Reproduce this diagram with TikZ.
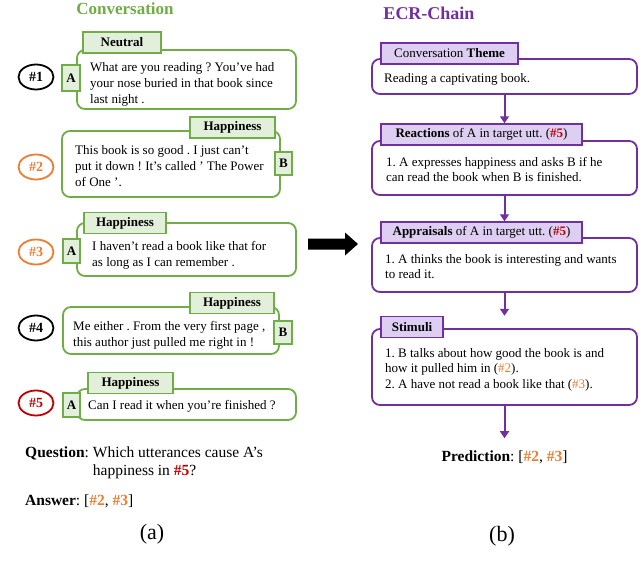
\documentclass[tikz,border=0pt]{standalone}
\usepackage{fontspec}
\setmainfont{Liberation Serif}
\usetikzlibrary{arrows.meta,shapes.geometric}
\definecolor{gborder}{RGB}{112,173,71}
\definecolor{gfill}{RGB}{226,239,218}
\definecolor{pborder}{RGB}{112,48,160}
\definecolor{pfill}{RGB}{222,206,242}
\definecolor{orng}{RGB}{237,125,49}
\definecolor{redc}{RGB}{192,0,0}
\newcommand{\fsz}[2]{\fontsize{#1}{#2}\selectfont}
\newcommand{\hor}[1]{\textcolor{orng}{\textbf{#1}}}
\newcommand{\hrd}[1]{\textcolor{redc}{\textbf{#1}}}
\frenchspacing
\begin{document}
\begin{tikzpicture}[x=1pt,y=-1pt,
  bubble/.style={draw=gborder, line width=1.8pt, fill=white, rounded corners=8pt, inner sep=0},
  gtag/.style={draw=gborder, line width=1.5pt, fill=gfill, inner sep=0, font=\fsz{13}{16}\bfseries},
  spk/.style={draw=gborder, line width=1.5pt, fill=gfill, inner sep=0, font=\fsz{13}{16}\bfseries},
  utext/.style={anchor=north west, inner sep=0, align=left, font=\fsz{13}{16}},
  uid/.style={ellipse, draw, line width=1.8pt, minimum width=35, minimum height=25, inner sep=0, font=\fsz{14}{16}\bfseries},
  pbox/.style={draw=pborder, line width=1.8pt, fill=white, rounded corners=8pt, inner sep=0, minimum width=265},
  ptag/.style={draw=pborder, line width=1.5pt, fill=pfill, inner sep=0, minimum height=21, font=\fsz{13}{16}},
  ptext/.style={anchor=north west, inner sep=0, align=left, font=\fsz{13}{15.5}},
  flow/.style={draw=pborder, line width=2pt, -{Triangle[width=9pt,length=7pt]}}
]
\useasboundingbox[fill=white] (0,0) rectangle (640,578);

% ---------- Left: Conversation ----------
\node[font=\fsz{17}{20}\bfseries, text=gborder] (convtitle) at (125,9) {Conversation};

% utterance 1
\node[uid, draw=black] (id1) at (36,77) {\#1};
\node[bubble, minimum width=219, minimum height=59] (u1) at (186.5,79.5) {};
\node[gtag, minimum width=78, minimum height=21] (g1) at (122,42.5) {Neutral};
\node[spk, minimum width=18, minimum height=26] (s1) at (71,78) {A};
\node[utext] (t1) at (90,60) {\strut What are you reading ? You've had\\your nose buried in that book since\\last night .};

% utterance 2
\node[uid, draw=orng, text=orng] (id2) at (36,167) {\#2};
\node[bubble, minimum width=218, minimum height=66] (u2) at (171,164) {};
\node[gtag, minimum width=85, minimum height=21] (g2) at (232.5,127.5) {Happiness};
\node[spk, minimum width=17, minimum height=23] (s2) at (283.5,163.5) {B};
\node[utext] (t2) at (75,143) {\strut This book is so good . I just can't\\put it down ! It's called ' The Power\\of One '.};

% utterance 3
\node[uid, draw=orng, text=orng] (id3) at (36,252) {\#3};
\node[bubble, minimum width=219, minimum height=53] (u3) at (186.5,249.5) {};
\node[gtag, minimum width=82, minimum height=21] (g3) at (125,223) {Happiness};
\node[spk, minimum width=17, minimum height=24] (s3) at (71.5,251) {A};
\node[utext] (t3) at (92,239) {\strut I haven't read a book like that for\\as long as I can remember .};

% utterance 4
\node[uid, draw=black] (id4) at (36,328) {\#4};
\node[bubble, minimum width=216, minimum height=47] (u4) at (171,330.5) {};
\node[gtag, minimum width=84, minimum height=21] (g4) at (232,303) {Happiness};
\node[spk, minimum width=18, minimum height=23] (s4) at (283,332.5) {B};
\node[utext] (t4) at (73,319) {\strut Me either . From the very first page ,\\this author just pulled me right in !};

% utterance 5
\node[uid, draw=redc, text=redc] (id5) at (36,403) {\#5};
\node[bubble, minimum width=219, minimum height=31] (u5) at (186.5,404.5) {};
\node[gtag, minimum width=85, minimum height=21] (g5) at (130.5,383) {Happiness};
\node[spk, minimum width=17, minimum height=24] (s5) at (71.5,405) {A};
\node[utext] (t5) at (88,398) {\strut Can I read it when you're finished ?};

% question / answer
\node[anchor=north west, inner sep=0, font=\fsz{15.5}{18}] (quest) at (25,445)
  {\begin{tabular}{@{}l@{\hspace{4pt}}l@{}}\textbf{Question}: & Which utterances cause A's\\ & happiness in \hrd{\#5}?\end{tabular}};
\node[anchor=base west, inner sep=0, font=\fsz{15.5}{18}] (answer) at (25,505)
  {\textbf{Answer}: [\hor{\#2}, \hor{\#3}]};
\node[font=\fsz{22}{24}] (capa) at (152,534) {(a)};

% big arrow
\fill[black] (308,238.5) -- (345,238.5) -- (345,232.5) -- (358,244) -- (345,255.5) -- (345,249.5) -- (308,249.5) -- cycle;

% ---------- Right: ECR-Chain ----------
\node[font=\fsz{18}{20}\bfseries, text=pborder] (ecrtitle) at (429,13.5) {ECR-Chain};

\node[pbox, minimum height=35] (r1) at (504.5,76.5) {};
\node[ptag, minimum width=137] (h1) at (449.5,53.5) {Conversation \textbf{Theme}};
\node[ptext] (p1) at (384,71) {\strut Reading a captivating book.};

\node[pbox, minimum height=54] (r2) at (504.5,168) {};
\node[ptag, minimum width=201] (h2) at (481.5,134.5) {\textbf{Reactions} of A in target utt. (\hrd{\#5})};
\node[ptext] (p2) at (386,155) {\strut 1. A expresses happiness and asks B if he\\can read the book when B is finished.};

\node[pbox, minimum height=54] (r3) at (504.5,265) {};
\node[ptag, minimum width=201] (h3) at (481.5,232.5) {\textbf{Appraisals} of A in target utt. (\hrd{\#5})};
\node[ptext] (p3) at (385,252) {\strut 1. A thinks the book is interesting and wants\\to read it.};

\node[pbox, minimum height=76] (r4) at (504.5,367) {};
\node[ptag, minimum width=62] (h4) at (412,327) {\textbf{Stimuli}};
\node[ptext] (p4) at (385,346) {\strut 1. B talks about how good the book is and\\how it pulled him in (\textcolor{orng}{\#2}).\\2. A have not read a book like that (\textcolor{orng}{\#3}).};

\node[font=\fsz{15.5}{18}, inner xsep=0, inner ysep=12pt] (pred) at (504.5,457) {\textbf{Prediction}: [\hor{\#2}, \hor{\#3}]};
\node[font=\fsz{22}{24}] (capb) at (502,536) {(b)};

% connectors
\draw[flow] (r1.south) -- (r1.south |- h2.north);
\draw[flow] (r2.south) -- (r2.south |- h3.north);
\draw[flow] (r3.south) -- (r3.south |- h4.north);
\draw[flow] (r4.south) -- (pred.north);
\end{tikzpicture}
\end{document}
